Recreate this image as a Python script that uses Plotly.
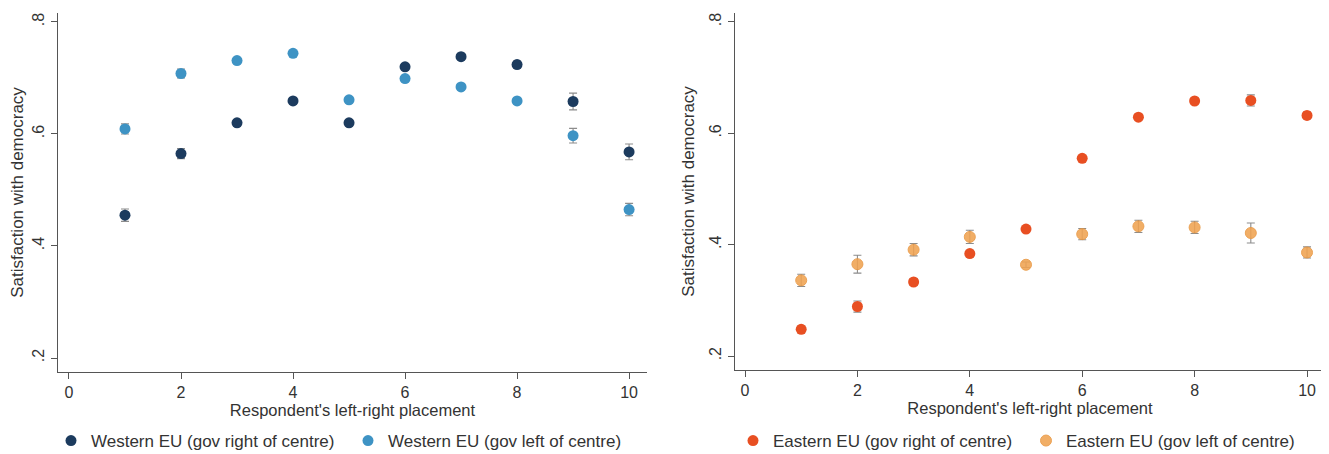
import plotly.graph_objects as go

# ---- data ----
placement = [1, 2, 3, 4, 5, 6, 7, 8, 9, 10]

west_right = [0.455, 0.565, 0.620, 0.659, 0.620, 0.720, 0.738, 0.724, 0.658, 0.568]
west_right_err = [0.011, 0.009, 0.004, 0.005, 0.004, 0.005, 0.005, 0.006, 0.015, 0.014]
west_left = [0.609, 0.708, 0.731, 0.744, 0.661, 0.699, 0.684, 0.659, 0.597, 0.465]
west_left_err = [0.009, 0.008, 0.004, 0.004, 0.003, 0.004, 0.004, 0.004, 0.013, 0.011]

east_right = [0.248, 0.289, 0.333, 0.384, 0.428, 0.555, 0.629, 0.658, 0.659, 0.632]
east_right_err = [0.006, 0.010, 0.006, 0.006, 0.003, 0.004, 0.004, 0.005, 0.010, 0.006]
east_left = [0.336, 0.365, 0.391, 0.414, 0.364, 0.419, 0.433, 0.431, 0.421, 0.386]
east_left_err = [0.011, 0.016, 0.011, 0.012, 0.005, 0.010, 0.011, 0.011, 0.018, 0.010]

names = ["Western EU (gov right of centre)", "Western EU (gov left of centre)",
         "Eastern EU (gov right of centre)", "Eastern EU (gov left of centre)"]

x_ticks = [0, 2, 4, 6, 8, 10]
y_ticks = [0.2, 0.4, 0.6, 0.8]
y_tick_labels = [".2", ".4", ".6", ".8"]

# ---- styling ----
# the page body has an 8px margin, so the figure is drawn 8px in from the corner
OFF = 8
W, H = 1329 - OFF, 454 - OFF
FONT = "Liberation Sans, Arial, sans-serif"
TXT = "#333333"
ERRC = "#8c8c8c"


def px_x(p):
    return (p - OFF) / W


def px_y(p):
    return 1 - (p - OFF) / H


fig = go.Figure()


def add(x, y, err, name, color, xa, ya, legend, opacity=1.0, line=None):
    fig.add_trace(go.Scatter(
        x=x, y=y, mode="markers", name=name,
        xaxis=xa, yaxis=ya, legend=legend,
        marker=dict(size=11, color=color, opacity=opacity,
                    line=line or dict(width=0)),
        error_y=dict(type="data", array=err, visible=True,
                     color=ERRC, thickness=1.1, width=4),
    ))


add(placement, west_right, west_right_err, names[0], "#1c3b5e", "x", "y", "legend")
add(placement, west_left, west_left_err, names[1], "#3e93c4", "x", "y", "legend2")
add(placement, east_right, east_right_err, names[2], "#e84f22", "x2", "y2", "legend3")
add(placement, east_left, east_left_err, names[3], "#f0a352", "x2", "y2", "legend4",
    opacity=0.88, line=dict(width=1, color="#e9963e"))

axis_common = dict(
    showgrid=False, zeroline=False, showline=True, linecolor="#555555", linewidth=1.3,
    ticks="outside", ticklen=6, tickcolor="#555555", tickwidth=1.2,
    tickfont=dict(family=FONT, size=16, color=TXT), automargin=False,
)

xtitle = dict(text="Respondent's left-right placement",
              font=dict(family=FONT, size=16.5, color=TXT), standoff=4)
ytitle = dict(text="Satisfaction with democracy",
              font=dict(family=FONT, size=17, color=TXT), standoff=8)


def leg(xpix):
    return dict(orientation="h", x=px_x(xpix), y=px_y(441), xanchor="left", yanchor="middle",
                font=dict(family=FONT, size=17, color=TXT), itemwidth=30,
                bgcolor="rgba(0,0,0,0)")


fig.update_layout(
    width=W, height=H,
    margin=dict(l=0, r=0, t=0, b=0, autoexpand=False),
    paper_bgcolor="white", plot_bgcolor="white",
    font=dict(family=FONT, color=TXT),
    xaxis=dict(domain=[px_x(58), px_x(647)], range=[-0.196, 10.32], anchor="y",
               tickvals=x_ticks, title=xtitle, **axis_common),
    yaxis=dict(domain=[px_y(372), px_y(13)], range=[0.175, 0.816], anchor="x",
               tickvals=y_ticks, ticktext=y_tick_labels, tickangle=-90,
               title=ytitle, **axis_common),
    xaxis2=dict(domain=[px_x(735), px_x(1325)], range=[-0.178, 10.32], anchor="y2",
                tickvals=x_ticks, title=xtitle, **axis_common),
    yaxis2=dict(domain=[px_y(370), px_y(13)], range=[0.175, 0.816], anchor="x2",
                tickvals=y_ticks, ticktext=y_tick_labels, tickangle=-90,
                title=ytitle, **axis_common),
    legend=leg(51),
    legend2=leg(348),
    legend3=leg(733),
    legend4=leg(1026),
    showlegend=True,
)

fig.write_html("out.html")
